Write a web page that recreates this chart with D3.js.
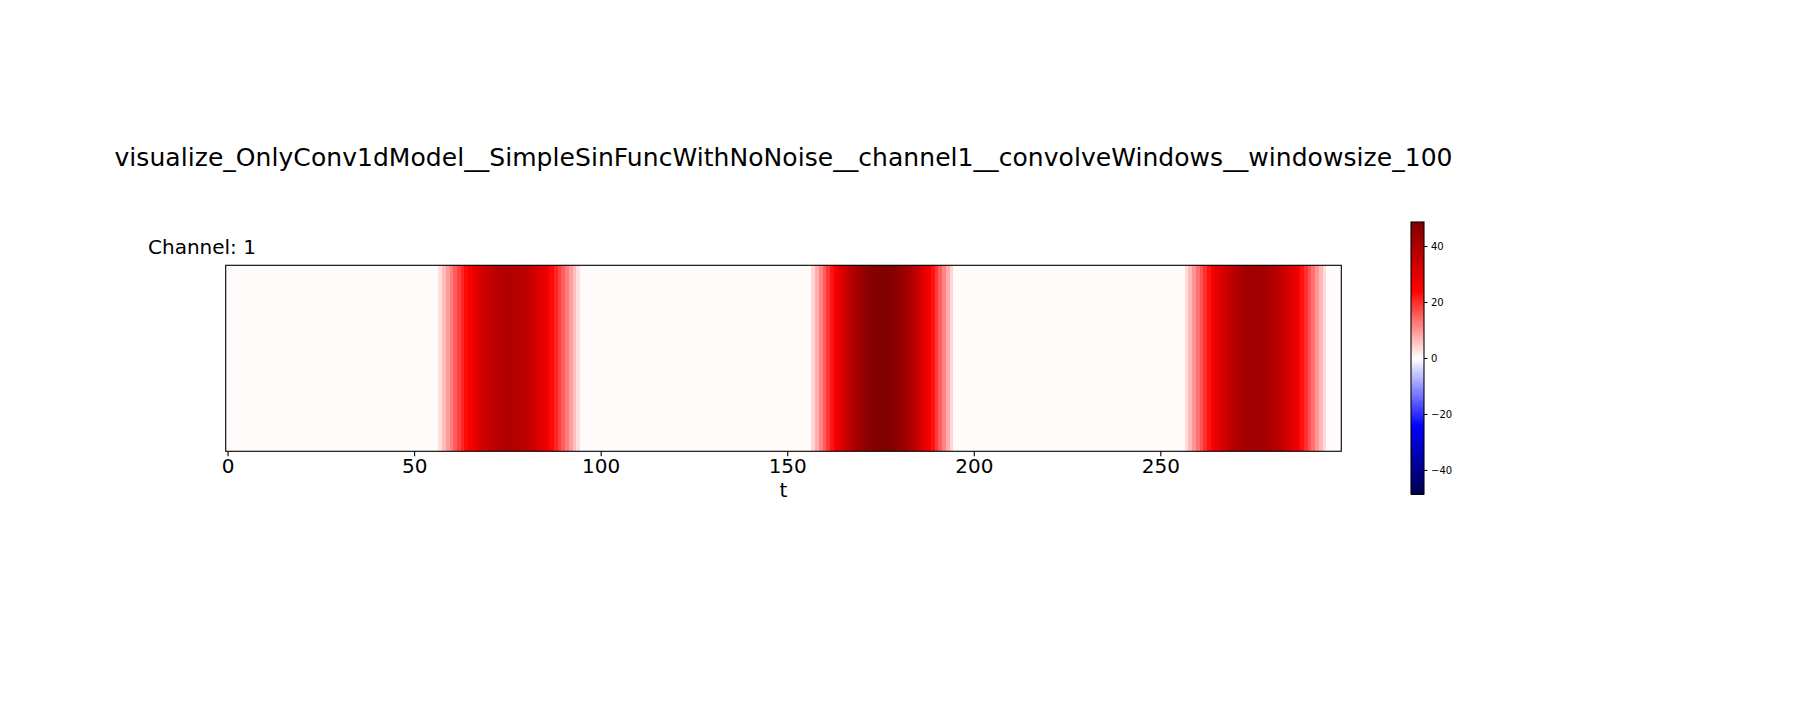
<!DOCTYPE html>
<html>
<head>
<meta charset="utf-8">
<script src="https://cdn.jsdelivr.net/npm/d3@7"></script>
<style>
  body { margin: 0; background: #ffffff; }
  svg { display: block; font-family: "DejaVu Sans", sans-serif; }
</style>
</head>
<body>
<svg id="chart" width="1800" height="720"></svg>
<script>
const chartTitle = "visualize_OnlyConv1dModel__SimpleSinFuncWithNoNoise__channel1__convolveWindows__windowsize_100";
const panelLabel = "Channel: 1";
const xLabel = "t";
const xTicks = [0, 50, 100, 150, 200, 250];
const cbarTicks = [-40, -20, 0, 20, 40];
const vLimit = 48.6;

// one value per time step t = 0 .. 298
const values = [
  // t 0-56
  0.4,0.4,0.4,0.4,0.4,0.4,0.4,0.4,0.4,0.4,
  0.4,0.4,0.4,0.4,0.4,0.4,0.4,0.4,0.4,0.4,
  0.4,0.4,0.4,0.4,0.4,0.4,0.4,0.4,0.4,0.4,
  0.4,0.4,0.4,0.4,0.4,0.4,0.4,0.4,0.4,0.4,
  0.4,0.4,0.4,0.4,0.4,0.4,0.4,0.4,0.4,0.4,
  0.4,0.4,0.4,0.4,0.4,0.4,0.4,
  // t 57-94
  3.1,6.3,9.3,12.4,15.3,18.1,20.8,23.4,25.9,28.1,
  30.2,32.1,33.8,35.2,36.5,37.5,38.2,38.7,39.0,39.0,
  38.7,38.2,37.5,36.5,35.2,33.8,32.1,30.2,28.1,25.9,
  23.4,20.8,18.1,15.3,12.4,9.3,6.3,3.1,
  // t 95-156
  0.4,0.4,0.4,0.4,0.4,0.4,0.4,0.4,0.4,0.4,
  0.4,0.4,0.4,0.4,0.4,0.4,0.4,0.4,0.4,0.4,
  0.4,0.4,0.4,0.4,0.4,0.4,0.4,0.4,0.4,0.4,
  0.4,0.4,0.4,0.4,0.4,0.4,0.4,0.4,0.4,0.4,
  0.4,0.4,0.4,0.4,0.4,0.4,0.4,0.4,0.4,0.4,
  0.4,0.4,0.4,0.4,0.4,0.4,0.4,0.4,0.4,0.4,
  0.4,0.4,
  // t 157-194
  3.9,7.8,11.6,15.4,19.1,22.6,26.0,29.2,32.2,35.0,
  37.6,40.0,42.1,43.9,45.4,46.7,47.6,48.2,48.6,48.6,
  48.2,47.6,46.7,45.4,43.9,42.1,40.0,37.6,35.0,32.2,
  29.2,26.0,22.6,19.1,15.4,11.6,7.8,3.9,
  // t 195-256
  0.4,0.4,0.4,0.4,0.4,0.4,0.4,0.4,0.4,0.4,
  0.4,0.4,0.4,0.4,0.4,0.4,0.4,0.4,0.4,0.4,
  0.4,0.4,0.4,0.4,0.4,0.4,0.4,0.4,0.4,0.4,
  0.4,0.4,0.4,0.4,0.4,0.4,0.4,0.4,0.4,0.4,
  0.4,0.4,0.4,0.4,0.4,0.4,0.4,0.4,0.4,0.4,
  0.4,0.4,0.4,0.4,0.4,0.4,0.4,0.4,0.4,0.4,
  0.4,0.4,
  // t 257-294
  3.4,6.8,10.1,13.4,16.6,19.7,22.6,25.4,28.1,30.5,
  32.8,34.8,36.6,38.2,39.6,40.6,41.5,42.0,42.3,42.3,
  42.0,41.5,40.6,39.6,38.2,36.6,34.8,32.8,30.5,28.1,
  25.4,22.6,19.7,16.6,13.4,10.1,6.8,3.4,
  // t 295-298
  0.4,0.4,0.4,0.4
];

const svg = d3.select("#chart");
const plot = { left: 225.7, right: 1341.3, top: 265.3, bottom: 451.3 };
const cbar = { left: 1411, right: 1424, top: 222, bottom: 494 };

// matplotlib "seismic" colormap
const seismic = d3.scaleLinear()
  .domain([-vLimit, -vLimit / 2, 0, vLimit / 2, vLimit])
  .range(["#00004d", "#0000ff", "#ffffff", "#ff0000", "#800000"])
  .clamp(true);

const x = d3.scaleLinear()
  .domain([-0.5, values.length - 0.5])
  .range([plot.left, plot.right]);

// heatmap cells
svg.append("g")
  .selectAll("rect")
  .data(values)
  .join("rect")
  .attr("x", (d, i) => x(i - 0.5))
  .attr("y", plot.top)
  .attr("width", (d, i) => x(i + 0.5) - x(i - 0.5) + 0.4)
  .attr("height", plot.bottom - plot.top)
  .attr("fill", d => seismic(d))
  .attr("shape-rendering", "crispEdges");

// frame
svg.append("rect")
  .attr("x", plot.left)
  .attr("y", plot.top)
  .attr("width", plot.right - plot.left)
  .attr("height", plot.bottom - plot.top)
  .attr("fill", "none")
  .attr("stroke", "#000")
  .attr("stroke-width", 1.1);

// x axis
const xAxis = svg.append("g")
  .attr("transform", `translate(0,${plot.bottom})`)
  .call(d3.axisBottom(x).tickValues(xTicks).tickSize(4.9).tickFormat(d3.format("d")));
xAxis.select(".domain").remove();
xAxis.selectAll(".tick line").attr("stroke", "#000").attr("stroke-width", 1.1);
xAxis.selectAll(".tick text")
  .attr("y", 21.5)
  .attr("dy", 0)
  .attr("fill", "#000")
  .attr("font-size", "20px")
  .attr("font-family", "DejaVu Sans, sans-serif");

// x label
svg.append("text")
  .attr("x", (plot.left + plot.right) / 2)
  .attr("y", 497)
  .attr("text-anchor", "middle")
  .attr("font-size", "20px")
  .attr("fill", "#000")
  .text(xLabel);

// panel label
svg.append("text")
  .attr("x", 148)
  .attr("y", 254.3)
  .attr("font-size", "20px")
  .attr("fill", "#000")
  .text(panelLabel);

// title
svg.append("text")
  .attr("x", (plot.left + plot.right) / 2)
  .attr("y", 166)
  .attr("text-anchor", "middle")
  .attr("font-size", "25px")
  .attr("textLength", 1338)
  .attr("lengthAdjust", "spacing")
  .attr("fill", "#000")
  .text(chartTitle);

// colorbar
const cy = d3.scaleLinear().domain([-vLimit, vLimit]).range([cbar.bottom, cbar.top]);
const steps = 256;
const stepVals = d3.range(steps).map(k => -vLimit + (k + 0.5) * (2 * vLimit / steps));
const stepH = (cbar.bottom - cbar.top) / steps;
svg.append("g")
  .selectAll("rect")
  .data(stepVals)
  .join("rect")
  .attr("x", cbar.left)
  .attr("y", d => cy(d) - stepH / 2)
  .attr("width", cbar.right - cbar.left)
  .attr("height", stepH + 0.5)
  .attr("fill", d => seismic(d))
  .attr("shape-rendering", "crispEdges");

svg.append("rect")
  .attr("x", cbar.left)
  .attr("y", cbar.top)
  .attr("width", cbar.right - cbar.left)
  .attr("height", cbar.bottom - cbar.top)
  .attr("fill", "none")
  .attr("stroke", "#000")
  .attr("stroke-width", 1.1);

const cAxis = svg.append("g")
  .attr("transform", `translate(${cbar.right},0)`)
  .call(d3.axisRight(cy).tickValues(cbarTicks).tickSize(3.5).tickPadding(3.5).tickFormat(d3.format("d")));
cAxis.select(".domain").remove();
cAxis.selectAll(".tick line").attr("stroke", "#000").attr("stroke-width", 1);
cAxis.selectAll(".tick text")
  .attr("fill", "#000")
  .attr("font-size", "10px")
  .attr("font-family", "DejaVu Sans, sans-serif");
</script>
</body>
</html>
